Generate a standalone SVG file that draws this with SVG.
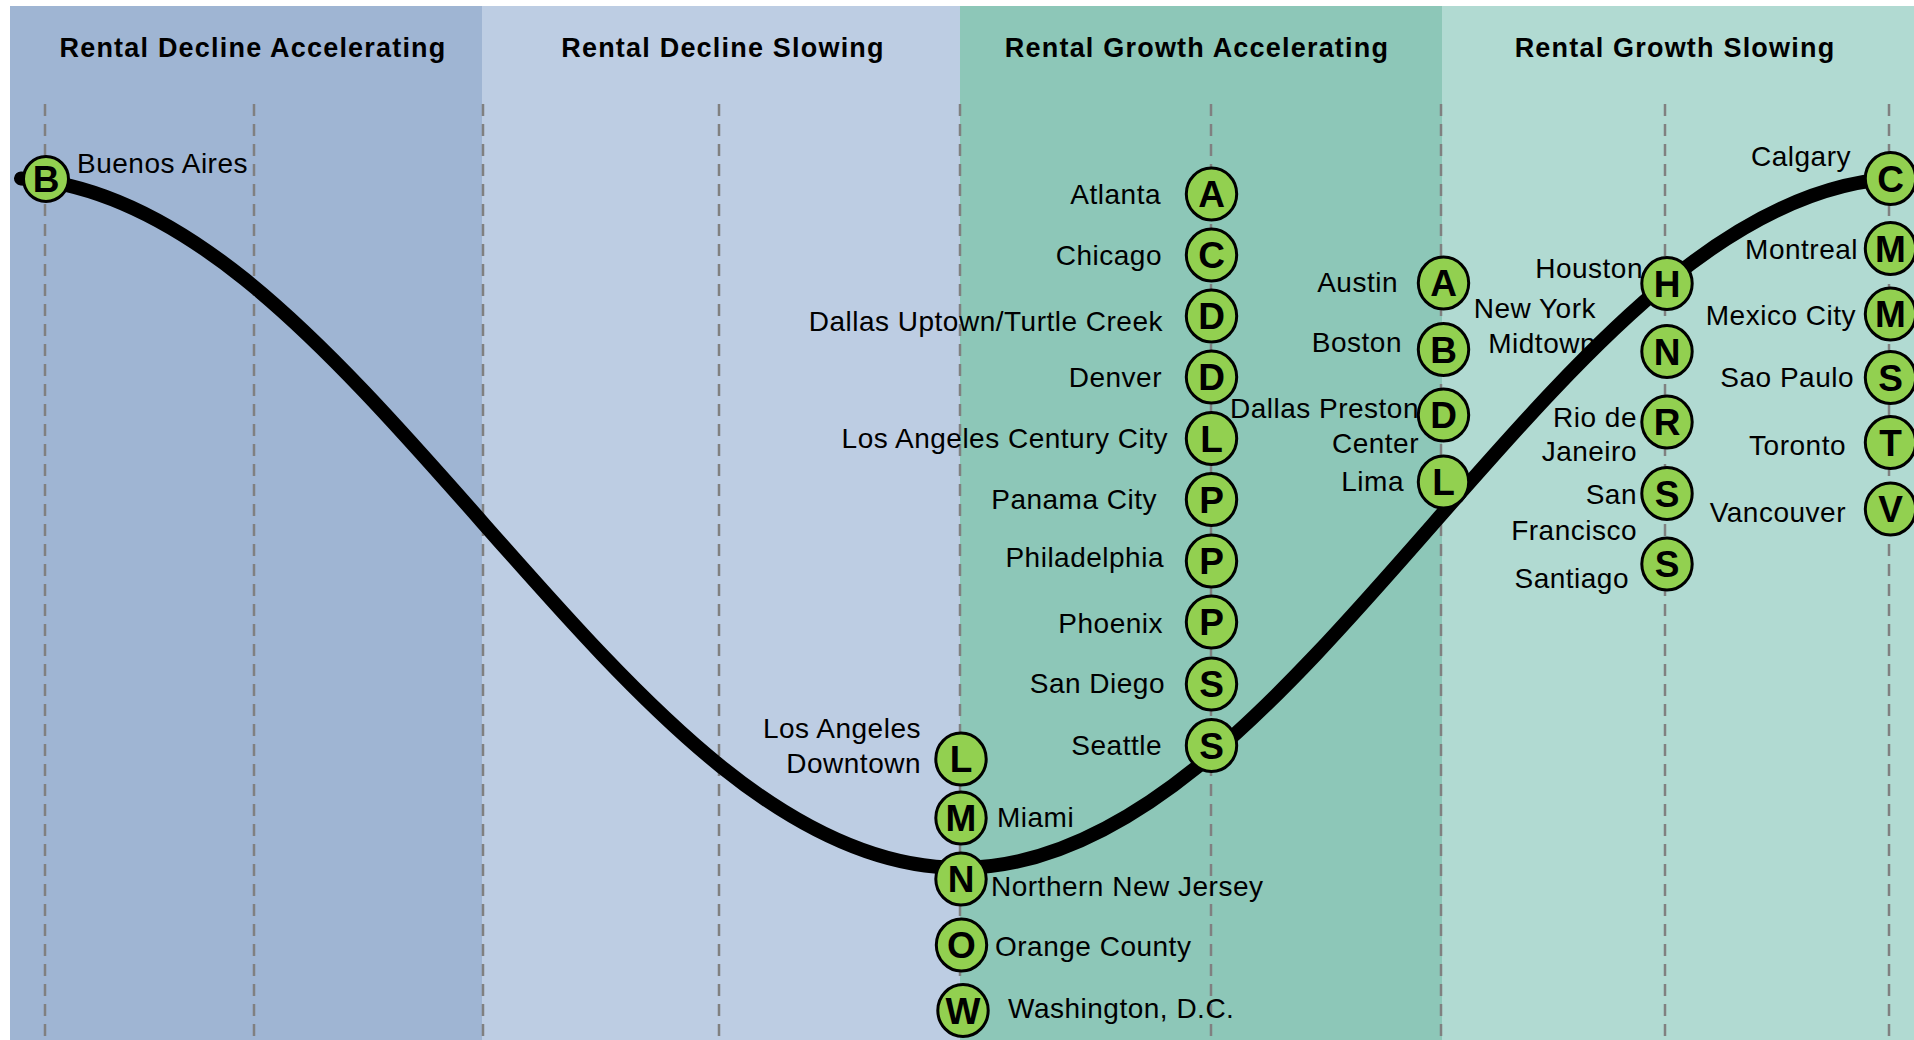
<svg xmlns="http://www.w3.org/2000/svg" width="1914" height="1040" viewBox="0 0 1914 1040">
<style>
.title{font-family:"Liberation Sans",Arial,sans-serif;font-size:27px;font-weight:bold;fill:#000;text-anchor:middle;letter-spacing:1.2px}
.lbl{font-family:"Liberation Sans",Arial,sans-serif;font-size:28px;fill:#000;letter-spacing:0.5px}
.e{text-anchor:end}
.node ellipse{fill:#92D050;stroke:#000;stroke-width:3}
.node .ltr{font-family:"Liberation Sans",Arial,sans-serif;font-size:37px;font-weight:bold;fill:#000;text-anchor:middle}
.guide{stroke:#808080;stroke-width:2.5;stroke-dasharray:12 8;fill:none}
</style>
<rect x="0" y="0" width="1914" height="1040" fill="#FFFFFF"/>
<g id="bands">
<rect x="10" y="6" width="472" height="1034" fill="#9FB5D3"/>
<rect x="482" y="6" width="478" height="1034" fill="#BDCDE3"/>
<rect x="960" y="6" width="482" height="1034" fill="#8DC7B8"/>
<rect x="1442" y="6" width="472" height="1034" fill="#B1DAD2"/>
</g>
<g id="titles">
<text class="title" x="253" y="57">Rental Decline Accelerating</text>
<text class="title" x="723" y="57">Rental Decline Slowing</text>
<text class="title" x="1197" y="57">Rental Growth Accelerating</text>
<text class="title" x="1675" y="57">Rental Growth Slowing</text>
</g>
<g id="guides">
<line class="guide" x1="45" y1="104" x2="45" y2="1040"/>
<line class="guide" x1="254" y1="104" x2="254" y2="1040"/>
<line class="guide" x1="483" y1="104" x2="483" y2="1040"/>
<line class="guide" x1="719" y1="104" x2="719" y2="1040"/>
<line class="guide" x1="960" y1="104" x2="960" y2="1040"/>
<line class="guide" x1="1211" y1="104" x2="1211" y2="1040"/>
<line class="guide" x1="1441" y1="104" x2="1441" y2="1040"/>
<line class="guide" x1="1665" y1="104" x2="1665" y2="1040"/>
<line class="guide" x1="1889" y1="104" x2="1889" y2="1040"/>
</g>
<g id="connectors">
<path d="M 21,178.4 C 95.5,182.6 170,219.2 244.5,279.05 C 324,342.92 403.5,432.68 483,523 C 562.5,613.32 642,703.08 721.5,766.95 C 801,830.82 880.5,868 960,868 C 1039,868 1118,830.82 1197,766.95 C 1276,703.08 1355,613.32 1434,523 C 1513,432.68 1592,342.92 1671,279.05 C 1750,215.18 1829,178 1908,178" fill="none" stroke="#000" stroke-width="14" stroke-linecap="round" stroke-linejoin="round"/>
</g>
<g id="n-buenos-aires" class="node"><ellipse cx="46" cy="179" rx="22.5" ry="22.5"/><text class="ltr" x="46" y="192">B</text><text class="lbl" x="77" y="173">Buenos Aires</text></g>
<g id="n-atlanta" class="node"><ellipse cx="1211.5" cy="194" rx="25.2" ry="26"/><text class="ltr" x="1211.5" y="207">A</text><text class="lbl e" x="1161" y="204">Atlanta</text></g>
<g id="n-chicago" class="node"><ellipse cx="1211.5" cy="255" rx="25.2" ry="26"/><text class="ltr" x="1211.5" y="268">C</text><text class="lbl e" x="1162" y="265">Chicago</text></g>
<g id="n-dallas-uptown" class="node"><ellipse cx="1211.5" cy="316" rx="25.2" ry="26"/><text class="ltr" x="1211.5" y="329">D</text><text class="lbl e" x="1163" y="331">Dallas Uptown/Turtle Creek</text></g>
<g id="n-denver" class="node"><ellipse cx="1211.5" cy="377" rx="25.2" ry="26"/><text class="ltr" x="1211.5" y="390">D</text><text class="lbl e" x="1162" y="387">Denver</text></g>
<g id="n-la-century-city" class="node"><ellipse cx="1211.5" cy="438.5" rx="25.2" ry="26"/><text class="ltr" x="1211.5" y="451.5">L</text><text class="lbl e" x="1168" y="448">Los Angeles Century City</text></g>
<g id="n-panama-city" class="node"><ellipse cx="1211.5" cy="499.5" rx="25.2" ry="26"/><text class="ltr" x="1211.5" y="512.5">P</text><text class="lbl e" x="1157" y="509">Panama City</text></g>
<g id="n-philadelphia" class="node"><ellipse cx="1211.5" cy="561" rx="25.2" ry="26"/><text class="ltr" x="1211.5" y="574">P</text><text class="lbl e" x="1164" y="567">Philadelphia</text></g>
<g id="n-phoenix" class="node"><ellipse cx="1211.5" cy="622" rx="25.2" ry="26"/><text class="ltr" x="1211.5" y="635">P</text><text class="lbl e" x="1163" y="633">Phoenix</text></g>
<g id="n-san-diego" class="node"><ellipse cx="1211.5" cy="684" rx="25.2" ry="26"/><text class="ltr" x="1211.5" y="697">S</text><text class="lbl e" x="1165" y="693">San Diego</text></g>
<g id="n-seattle" class="node"><ellipse cx="1211.5" cy="745.5" rx="25.2" ry="26"/><text class="ltr" x="1211.5" y="758.5">S</text><text class="lbl e" x="1162" y="755">Seattle</text></g>
<g id="n-la-downtown" class="node"><ellipse cx="961" cy="759" rx="25.2" ry="26"/><text class="ltr" x="961" y="772">L</text><text class="lbl e" x="921" y="738">Los Angeles</text><text class="lbl e" x="921" y="773">Downtown</text></g>
<g id="n-miami" class="node"><ellipse cx="961" cy="818" rx="25.2" ry="26"/><text class="ltr" x="961" y="831">M</text><text class="lbl" x="997" y="827">Miami</text></g>
<g id="n-northern-nj" class="node"><ellipse cx="961" cy="879" rx="25.2" ry="26"/><text class="ltr" x="961" y="892">N</text><text class="lbl" x="991" y="896">Northern New Jersey</text></g>
<g id="n-orange-county" class="node"><ellipse cx="961.5" cy="945" rx="25.2" ry="26"/><text class="ltr" x="961.5" y="958">O</text><text class="lbl" x="995" y="956">Orange County</text></g>
<g id="n-washington" class="node"><ellipse cx="963" cy="1010.5" rx="25.2" ry="26"/><text class="ltr" x="963" y="1023.5">W</text><text class="lbl" x="1008" y="1018">Washington, D.C.</text></g>
<g id="n-austin" class="node"><ellipse cx="1443.5" cy="283" rx="25.2" ry="26"/><text class="ltr" x="1443.5" y="296">A</text><text class="lbl e" x="1398" y="292">Austin</text></g>
<g id="n-boston" class="node"><ellipse cx="1443.5" cy="349.5" rx="25.2" ry="26"/><text class="ltr" x="1443.5" y="362.5">B</text><text class="lbl e" x="1402" y="352">Boston</text></g>
<g id="n-dallas-preston" class="node"><ellipse cx="1443.5" cy="415" rx="25.2" ry="26"/><text class="ltr" x="1443.5" y="428">D</text><text class="lbl e" x="1419" y="418">Dallas Preston</text><text class="lbl e" x="1419" y="453">Center</text></g>
<g id="n-lima" class="node"><ellipse cx="1443.5" cy="482" rx="25.2" ry="26"/><text class="ltr" x="1443.5" y="495">L</text><text class="lbl e" x="1404" y="491">Lima</text></g>
<g id="n-houston" class="node"><ellipse cx="1667" cy="283.5" rx="25.2" ry="26"/><text class="ltr" x="1667" y="296.5">H</text><text class="lbl e" x="1643" y="278">Houston</text></g>
<g id="n-new-york-midtown" class="node"><ellipse cx="1667" cy="351.5" rx="25.2" ry="26"/><text class="ltr" x="1667" y="364.5">N</text><text class="lbl e" x="1596" y="318">New York</text><text class="lbl e" x="1596" y="353">Midtown</text></g>
<g id="n-rio" class="node"><ellipse cx="1667" cy="422" rx="25.2" ry="26"/><text class="ltr" x="1667" y="435">R</text><text class="lbl e" x="1637" y="427">Rio de</text><text class="lbl e" x="1637" y="461">Janeiro</text></g>
<g id="n-san-francisco" class="node"><ellipse cx="1667" cy="493.5" rx="25.2" ry="26"/><text class="ltr" x="1667" y="506.5">S</text><text class="lbl e" x="1637" y="504">San</text><text class="lbl e" x="1637" y="540">Francisco</text></g>
<g id="n-santiago" class="node"><ellipse cx="1667" cy="564" rx="25.2" ry="26"/><text class="ltr" x="1667" y="577">S</text><text class="lbl e" x="1629" y="588">Santiago</text></g>
<g id="n-calgary" class="node"><ellipse cx="1890.5" cy="178.5" rx="25.2" ry="26"/><text class="ltr" x="1890.5" y="191.5">C</text><text class="lbl e" x="1851" y="166">Calgary</text></g>
<g id="n-montreal" class="node"><ellipse cx="1890.5" cy="248.5" rx="25.2" ry="26"/><text class="ltr" x="1890.5" y="261.5">M</text><text class="lbl e" x="1858" y="259">Montreal</text></g>
<g id="n-mexico-city" class="node"><ellipse cx="1890.5" cy="314" rx="25.2" ry="26"/><text class="ltr" x="1890.5" y="327">M</text><text class="lbl e" x="1856" y="325">Mexico City</text></g>
<g id="n-sao-paulo" class="node"><ellipse cx="1890.5" cy="377.5" rx="25.2" ry="26"/><text class="ltr" x="1890.5" y="390.5">S</text><text class="lbl e" x="1854" y="387">Sao Paulo</text></g>
<g id="n-toronto" class="node"><ellipse cx="1890.5" cy="442.5" rx="25.2" ry="26"/><text class="ltr" x="1890.5" y="455.5">T</text><text class="lbl e" x="1846" y="455">Toronto</text></g>
<g id="n-vancouver" class="node"><ellipse cx="1890.5" cy="509" rx="25.2" ry="26"/><text class="ltr" x="1890.5" y="522">V</text><text class="lbl e" x="1846" y="522">Vancouver</text></g>
</svg>
